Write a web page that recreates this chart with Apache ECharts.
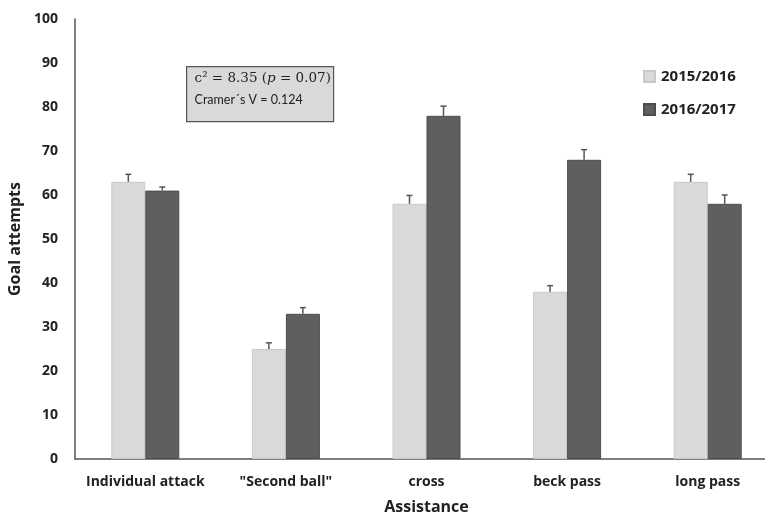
<!DOCTYPE html>
<html><head><meta charset="utf-8">
<script src="https://cdn.jsdelivr.net/npm/echarts@6/dist/echarts.min.js"></script>
<style>html,body{margin:0;padding:0;background:#fff}#c{width:765px;height:516px}</style>
</head><body><div id="c"></div>
<script>
const categories = ['Individual attack', '"Second ball"', 'cross', 'beck pass', 'long pass'];
const seriesNames = ['2015/2016', '2016/2017'];
const values2015 = [63, 25, 58, 38, 63];
const values2016 = [61, 33, 78, 68, 58];
const err2015 = [1.7, 1.4, 1.9, 1.4, 1.7];
const err2016 = [0.8, 1.4, 2.2, 2.3, 2.0];
const yTicks = [0, 10, 20, 30, 40, 50, 60, 70, 80, 90, 100];

const FONT = 'Open Sans';
const colors = ['#d9d9db', '#5f5f61'];
const borders = ['#c9c9cb', '#4d4d4f'];

function errSeries(vals, errs, idx) {
  return {
    type: 'custom', name: 'err' + idx, z: 5, silent: true,
    data: vals.map((v, i) => [i, v, v + errs[i]]),
    renderItem: function (params, api) {
      const ci = api.value(0);
      const base = api.coord([ci, api.value(1)]);
      const top = api.coord([ci, api.value(2)]);
      const barW = 34;
      const x = base[0] + (idx === 0 ? -barW / 2 : barW / 2);
      return {
        type: 'group', children: [
          { type: 'line', shape: { x1: x, y1: base[1], x2: x, y2: top[1] }, style: { stroke: '#555', lineWidth: 1.5 } },
          { type: 'line', shape: { x1: x - 3, y1: top[1], x2: x + 3, y2: top[1] }, style: { stroke: '#555', lineWidth: 1.5 } }
        ]
      };
    }
  };
}

const chart = echarts.init(document.getElementById('c'));
chart.setOption({
  animation: false,
  backgroundColor: '#fff',
  grid: { left: 75, top: 19, width: 703, height: 440, containLabel: false, outerBoundsMode: 'none' },
  legend: {
    data: seriesNames, orient: 'vertical', left: 638, top: 64,
    itemWidth: 11, itemHeight: 11, itemGap: 18, icon: 'rect',
    textStyle: { fontFamily: FONT, fontWeight: 'bold', fontSize: 15, color: '#222', padding: [0, 0, 0, 1] }
  },
  xAxis: {
    type: 'category', data: categories,
    name: 'Assistance', nameLocation: 'middle', nameGap: 40,
    nameTextStyle: { fontFamily: FONT, fontWeight: 'bold', fontSize: 16, color: '#222' },
    axisLine: { lineStyle: { color: '#555', width: 1.5 } },
    axisTick: { show: false },
    axisLabel: { interval: 0, fontFamily: FONT, fontWeight: 'bold', fontSize: 14, color: '#222', margin: 16 }
  },
  yAxis: {
    type: 'value', min: 0, max: 100, interval: 10,
    name: 'Goal attempts', nameLocation: 'middle', nameGap: 47, nameRotate: 90,
    nameTextStyle: { fontFamily: FONT, fontWeight: 'bold', fontSize: 16, color: '#222' },
    axisLine: { show: true, lineStyle: { color: '#555', width: 1.5 } },
    axisTick: { show: false },
    splitLine: { show: false },
    axisLabel: { fontFamily: FONT, fontWeight: 'bold', fontSize: 14, color: '#222', margin: 17,
      formatter: v => yTicks.includes(v) ? String(v) : '' }
  },
  series: [
    { type: 'bar', name: seriesNames[0], data: values2015, barWidth: 34, barGap: '0%',
      itemStyle: { color: colors[0], borderColor: borders[0], borderWidth: 1 } },
    { type: 'bar', name: seriesNames[1], data: values2016, barWidth: 34, barGap: '0%',
      itemStyle: { color: colors[1], borderColor: borders[1], borderWidth: 1 } },
    errSeries(values2015, err2015, 0),
    errSeries(values2016, err2016, 1)
  ],
  graphic: [{
    type: 'group', left: 186, top: 66,
    children: [
      { type: 'rect', shape: { x: 0, y: 0, width: 147, height: 55 },
        style: { fill: '#d9d9d9', stroke: '#555', lineWidth: 1.2 } },
      { type: 'text', x: 8, y: 5,
        style: {
          text: '{a|c² = 8.35 (}{i|p}{a| = 0.07)}',
          rich: {
            a: { fontFamily: 'DejaVu Serif', fontSize: 13.5, fill: '#222' },
            i: { fontFamily: 'DejaVu Serif', fontStyle: 'italic', fontSize: 13.5, fill: '#222' }
          }
        } },
      { type: 'text', x: 8, y: 27,
        style: { text: 'Cramer´s V = 0.124', fontFamily: 'Lato', fontSize: 12.5, fill: '#222' } }
    ]
  }]
});
</script></body></html>
